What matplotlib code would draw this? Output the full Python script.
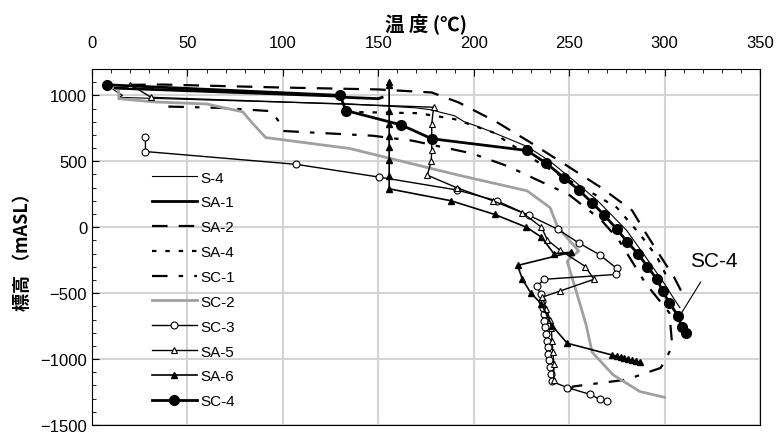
import matplotlib
matplotlib.use("Agg")
import matplotlib.pyplot as plt

# ── data: temperature (degC) and elevation (mASL) per well ───────────────────
s4_t = [11, 16, 14, 60, 135, 170, 178, 183, 190, 195, 202, 210, 228, 240, 252, 265, 280, 290, 300, 304, 308]
s4_e = [1045, 1000, 985, 965, 935, 905, 890, 870, 845, 800, 765, 720, 612, 500, 358, 200, -22, -224, -430, -522, -610]

sa1_t = [12, 128, 133, 150, 152]
sa1_e = [1055, 995, 985, 975, 985]

sa2_t = [20, 37, 98, 150, 178, 192, 212, 229, 248.5, 267, 283, 290.5, 297, 305, 310]
sa2_e = [1080, 1082, 1060, 1045, 1022, 947, 798, 649, 470, 298, 127, -52, -201, -380, -520]

sa4_t = [140, 171, 190, 210, 233, 245, 262, 275, 287, 296, 302]
sa4_e = [873, 865, 820, 720, 500, 395, 260, 149, -52, -224, -400]

sc1_t = [40, 68, 94, 98, 100, 147, 168, 199, 218, 250, 267, 276, 290, 302.5, 304, 302.5, 298, 280, 252, 248]
sc1_e = [915, 905, 880, 800, 730, 694, 656, 560, 462, 246, 52, -97, -425, -649, -895, -947, -1067, -1156, -1208, -1280]

sc2_t = [14, 14, 33, 60, 79, 84, 91, 135, 192, 228, 240, 244, 255, 250, 249, 254, 259, 262, 273, 287, 300]
sc2_e = [1030, 975, 950, 935, 875, 790, 680, 597, 395, 276, 149, 0, -180, -240, -261, -500, -746, -947, -1119, -1246, -1290]

sc3_t = [28, 28, 107, 150.5, 191, 212, 229, 244, 255, 266, 275, 274.6, 237, 233, 235, 236, 236.5, 237, 237,
         237.5, 238, 238.5, 239, 239, 239.5, 240, 240.5, 241, 249, 261, 266, 270]
sc3_e = [686, 574, 477, 380, 283, 201, 90, -15, -119, -209, -313, -358, -395, -447, -507, -560, -610, -660, -710,
         -760, -810, -860, -910, -960, -1010, -1060, -1110, -1170, -1216, -1268, -1305, -1320]

sa5_t = [20, 31, 179, 178, 178, 178, 177.7, 175.7, 191, 210, 225.5, 235.5, 238.6, 245, 258.5, 263, 245,
         236, 238, 240, 240.7, 241, 241.5, 242, 242]
sa5_e = [1082, 985, 910, 783, 680, 582, 500, 395, 300, 201, 110, 0, -97, -172, -298, -395, -485,
         -530, -620, -700, -768, -860, -947, -1040, -1156]

sa6_t = [155.7, 155.7, 155.7, 155.7, 155.7, 155.7, 155.7, 155.7, 155.7, 188, 211, 227.6, 235.5, 242, 251,
         223, 225.5, 230, 235.5, 241, 249, 272.7, 275, 277, 279, 281, 283, 285, 287]
sa6_e = [1104, 1082, 880, 783, 694, 612, 507, 388, 291, 201, 97, 0, -75, -201, -190,
         -290, -395, -500, -582, -746, -880, -970, -978, -986, -994, -1002, -1010, -1016, -1022]

sc4_t = [8, 130, 133, 162, 178, 228, 238, 247.5, 255, 262, 268.5, 275, 280.5, 286, 291, 296, 299, 302.5, 307, 309, 311]
sc4_e = [1080, 1000, 885, 776, 671, 582, 485, 373, 283, 186, 90, -15, -112, -201, -298, -395, -485, -574, -671, -760, -806]

plt.rcParams["font.family"] = ["Liberation Sans Narrow", "Liberation Sans", "Noto Sans CJK JP"]

fig = plt.figure(figsize=(7.77, 4.35), dpi=100)
ax = fig.add_axes([92 / 777, 9 / 435, 668 / 777, 356 / 435])

ax.plot(s4_t, s4_e, color="black", lw=0.8, label="S-4")
ax.plot(sa1_t, sa1_e, color="black", lw=2.0, label="SA-1")
ax.plot(sa2_t, sa2_e, color="black", lw=1.6, dashes=(7, 5), label="SA-2")
ax.plot(sa4_t, sa4_e, color="black", lw=1.6, dashes=(2, 4), label="SA-4")
ax.plot(sc1_t, sc1_e, color="black", lw=1.6, dashes=(7, 5, 2, 5), label="SC-1")
ax.plot(sc2_t, sc2_e, color="#a0a0a0", lw=2.0, label="SC-2")
ax.plot(sc3_t, sc3_e, color="black", lw=1.0, marker="o", ms=5, mfc="white", mec="black", mew=0.8, label="SC-3")
ax.plot(sa5_t, sa5_e, color="black", lw=1.0, marker="^", ms=5, mfc="white", mec="black", mew=0.8, label="SA-5")
ax.plot(sa6_t, sa6_e, color="black", lw=1.2, marker="^", ms=4, mfc="black", mec="black", label="SA-6")
ax.plot(sc4_t, sc4_e, color="black", lw=2.0, marker="o", ms=7, mfc="black", mec="black", label="SC-4")

ax.set_xlim(0, 350)
ax.set_ylim(-1500, 1200)
ax.set_xticks(range(0, 351, 50))
ax.set_xticks(range(0, 351, 10), minor=True)
ax.set_yticks(range(-1500, 1001, 500))
ax.set_yticks(range(-1500, 1201, 100), minor=True)
ax.xaxis.tick_top()
ax.xaxis.set_label_position("top")
ax.tick_params(which="both", direction="in", labelsize=12)
ax.tick_params(which="major", length=5)
ax.tick_params(which="minor", length=3)
ax.tick_params(axis="x", pad=14)
ax.grid(True, which="major", color="#d4d4d4", lw=1.5)
ax.set_axisbelow(True)

ax.set_xlabel("温 度 (℃)", fontsize=14, fontweight="bold", labelpad=4,
              family=["Noto Sans CJK JP", "DejaVu Sans"])
ax.set_ylabel("標高 （mASL）", fontsize=13, fontweight="bold", labelpad=6,
              family=["Noto Sans CJK JP", "DejaVu Sans"])

ax.annotate("SC-4", xy=(308, -671), xytext=(326, -250), fontsize=15,
            ha="center", va="center",
            arrowprops=dict(arrowstyle="-", color="black", lw=0.8, shrinkA=8, shrinkB=0))

ax.legend(loc="lower left", bbox_to_anchor=(0.08, 0.03), frameon=False, fontsize=11,
          handlelength=3.0, handletextpad=0.2, labelspacing=0.71, borderaxespad=0)

fig.savefig("out.png", dpi=100)
